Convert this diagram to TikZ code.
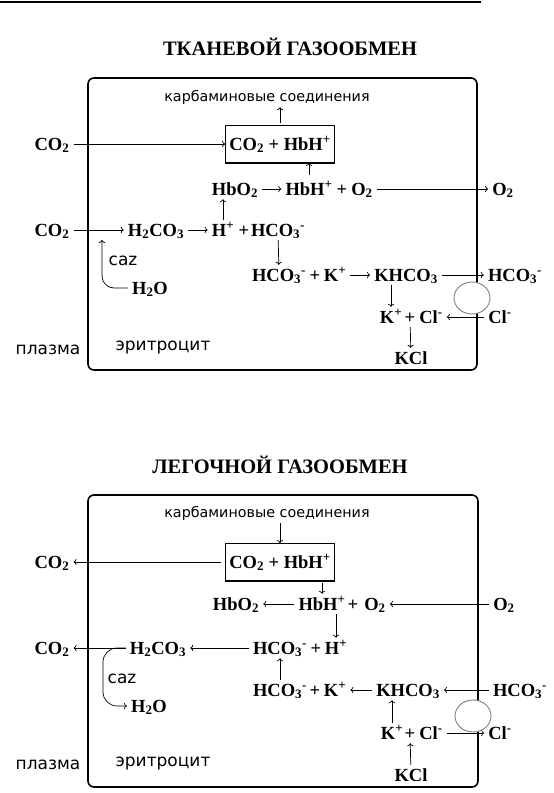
\documentclass[tikz,border=0pt]{standalone}
\usepackage{fontspec}
\setmainfont{Liberation Serif}
\newfontfamily\handfont{DejaVu Sans}
\usetikzlibrary{arrows.meta}
\definecolor{ink}{HTML}{000000}
\definecolor{pore-grey}{HTML}{7F7F7F}
\tikzset{
  chem/.style={
    font=\fontsize{18.5}{20}\selectfont\bfseries,
    text height=12pt, text depth=0pt, inner sep=2pt
  },
  chem-box/.style={
    chem, draw=ink, line width=0.8pt,
    minimum width=109pt, minimum height=37pt
  },
  heading/.style={font=\fontsize{20.5}{24}\selectfont\bfseries, inner sep=0pt},
  hand/.style={font=\handfont\fontsize{17}{20}\selectfont, inner sep=1pt},
  hand-small/.style={font=\handfont\fontsize{14.3}{17}\selectfont, inner sep=1pt},
  cellbox/.style={draw=ink, line width=1.6pt, rounded corners=6pt},
  pore/.style={draw=pore-grey, line width=0.9pt, fill=white},
  arr/.style={draw=ink, line width=0.7pt, -{To[length=3pt]},
    shorten <=2pt, shorten >=2pt},
  arr-box/.style={arr, shorten >=0pt}
}

\begin{document}
\begin{tikzpicture}[x=1pt, y=-1pt]
  \useasboundingbox (0,0) rectangle (554,793);

  \draw[line width=2.2pt] (0,2) -- (481,2);

  % ---- Tissue exchange: cell and labels ------------------------------------
  \node[heading] (tTitle) at (290,47) {ТКАНЕВОЙ ГАЗООБМЕН};
  \draw[cellbox] (88,78) rectangle (477,370);
  \node[hand-small] (tCarb) at (267,97) {карбаминовые соединения};
  \node[hand] (tPlasma) at (48,350) {плазма};
  \node[hand] (tEry) at (163,348) {эритроцит};
  \node[hand] (tCaz) at (123,261) {caz};

  % ---- Tissue exchange: species --------------------------------------------
  \node[chem] (tCO2a) at (52,144) {CO\textsubscript{2}};
  \node[chem-box] (tBox) at (280,144) {CO\textsubscript{2} + HbH\textsuperscript{+}};
  \node[chem] (tHbO2) at (235,189) {HbO\textsubscript{2}};
  \node[chem] (tHbH) at (309,189) {HbH\textsuperscript{+}};
  \node[chem] (tPlusB) at (342,189) {+};
  \node[chem] (tO2a) at (362,189) {O\textsubscript{2}};
  \node[chem] (tO2b) at (503,189) {O\textsubscript{2}};
  \node[chem] (tCO2b) at (52,230) {CO\textsubscript{2}};
  \node[chem] (tH2CO3) at (156,230) {H\textsubscript{2}CO\textsubscript{3}};
  \node[chem] (tHp) at (223,230) {H\textsuperscript{+}};
  \node[chem] (tPlusC) at (244,230) {+};
  \node[chem] (tHCO3a) at (278,230) {HCO\textsubscript{3}\textsuperscript{-}};
  \node[chem] (tH2O) at (150,288) {H\textsubscript{2}O};
  \node[chem] (tHCO3b) at (279,275) {HCO\textsubscript{3}\textsuperscript{-}};
  \node[chem] (tPlusD) at (315,275) {+};
  \node[chem] (tKp) at (335,275) {K\textsuperscript{+}};
  \node[chem] (tKHCO3) at (406,275) {KHCO\textsubscript{3}};
  \node[chem] (tHCO3c) at (515,275) {HCO\textsubscript{3}\textsuperscript{-}};
  \node[chem] (tKp2) at (391,317) {K\textsuperscript{+}};
  \node[chem] (tPlusE) at (410,317) {+};
  \node[chem] (tClA) at (431,317) {Cl\textsuperscript{-}};
  \node[chem] (tClB) at (500,317) {Cl\textsuperscript{-}};
  \node[chem] (tKCl) at (411,358) {KCl};
  \coordinate (tCazTip) at (102,238);

  % ---- Tissue exchange: arrows ---------------------------------------------
  \draw[line width=2.4pt] (tBox.south west) -- (tBox.south east);
  \draw[arr-box] (tCO2a) -- (tBox);
  \draw[arr] (tBox.north) -- (tBox.north |- tCarb.south);
  \draw[arr] (tHbO2) -- (tHbH);
  \draw[arr-box, shorten <=6pt] (tHbH.north) -- (tHbH.north |- tBox.south);
  \draw[arr] (tO2a) -- (tO2b);
  \draw[arr] (tCO2b) -- (tH2CO3);
  \draw[arr] (tH2CO3) -- (tHp);
  \draw[arr] (tHp.north) -- (tHp.north |- tHbO2.south);
  \draw[arr] (tHCO3a) -- (tHCO3b);
  \draw[arr, rounded corners=12pt] (tH2O.west) -| (tCazTip);
  \draw[arr] (tKp) -- (tKHCO3);
  \draw[arr] (tKHCO3) -- (tHCO3c);
  \draw[arr] (tKp2.north |- tKHCO3.south) -- (tKp2.north);
  \draw[arr] (tClB) -- (tClA);
  \draw[arr] (tPlusE) -- (tKCl);
  \draw[pore] (472,298) ellipse [x radius=18pt, y radius=16pt];

  % ---- Lung exchange: cell and labels --------------------------------------
  \node[heading] (lTitle) at (280,465) {ЛЕГОЧНОЙ ГАЗООБМЕН};
  \draw[cellbox] (88,495) rectangle (478,787);
  \node[hand-small] (lCarb) at (267,513) {карбаминовые соединения};
  \node[hand] (lPlasma) at (48,765) {плазма};
  \node[hand] (lEry) at (163,763) {эритроцит};
  \node[hand] (lCaz) at (122,679) {caz};

  % ---- Lung exchange: species ----------------------------------------------
  \node[chem] (lCO2a) at (52,562) {CO\textsubscript{2}};
  \node[chem-box] (lBox) at (280,562) {CO\textsubscript{2} + HbH\textsuperscript{+}};
  \node[chem] (lHbO2) at (236,604) {HbO\textsubscript{2}};
  \node[chem] (lHbH) at (322,604) {HbH\textsuperscript{+}};
  \node[chem] (lPlusB) at (353,604) {+};
  \node[chem] (lO2a) at (375,604) {O\textsubscript{2}};
  \node[chem] (lO2b) at (504,604) {O\textsubscript{2}};
  \node[chem] (lCO2b) at (52,648) {CO\textsubscript{2}};
  \node[chem] (lH2CO3) at (158,648) {H\textsubscript{2}CO\textsubscript{3}};
  \node[chem] (lHCO3a) at (280,648) {HCO\textsubscript{3}\textsuperscript{-}};
  \node[chem] (lPlusC) at (316,648) {+};
  \node[chem] (lHp) at (336,648) {H\textsuperscript{+}};
  \node[chem] (lH2O) at (149,706) {H\textsubscript{2}O};
  \node[chem] (lHCO3b) at (280,690) {HCO\textsubscript{3}\textsuperscript{-}};
  \node[chem] (lPlusD) at (315,690) {+};
  \node[chem] (lKp) at (335,690) {K\textsuperscript{+}};
  \node[chem] (lKHCO3) at (408,690) {KHCO\textsubscript{3}};
  \node[chem] (lHCO3c) at (520,690) {HCO\textsubscript{3}\textsuperscript{-}};
  \node[chem] (lKp2) at (392,733) {K\textsuperscript{+}};
  \node[chem] (lPlusE) at (410,733) {+};
  \node[chem] (lClA) at (431,733) {Cl\textsuperscript{-}};
  \node[chem] (lClB) at (500,733) {Cl\textsuperscript{-}};
  \node[chem] (lKCl) at (411,775) {KCl};
  \coordinate (lCazBend) at (103,680);

  % ---- Lung exchange: arrows -----------------------------------------------
  \draw[line width=2.4pt] (lBox.south west) -- (lBox.south east);
  \draw[arr, shorten <=4pt] (lBox) -- (lCO2a);
  \draw[arr-box] (lBox.north |- lCarb.south) -- (lBox.north);
  \draw[arr] (lHbH.north |- lBox.south) -- (lHbH.north);
  \draw[arr] (lHbH) -- (lHbO2);
  \draw[arr] (lO2b) -- (lO2a);
  \draw[arr] (lHp.north |- lHbH.south) -- (lHp.north);
  \draw[arr] (lH2CO3) -- (lCO2b);
  \draw[arr] (lHCO3a) -- (lH2CO3);
  \draw[arr, rounded corners=14pt] (lH2CO3.west) -| (lCazBend) |- (lH2O.west);
  \draw[arr] (lHCO3b) -- (lHCO3a);
  \draw[arr] (lKHCO3) -- (lKp);
  \draw[arr] (lHCO3c) -- (lKHCO3);
  \draw[arr] (lKp2.north) -- (lKp2.north |- lKHCO3.south);
  \draw[arr] (lClA) -- (lClB);
  \draw[arr] (lKCl) -- (lPlusE);
  \draw[pore] (473,716) ellipse [x radius=18pt, y radius=16pt];

\end{tikzpicture}
\end{document}
